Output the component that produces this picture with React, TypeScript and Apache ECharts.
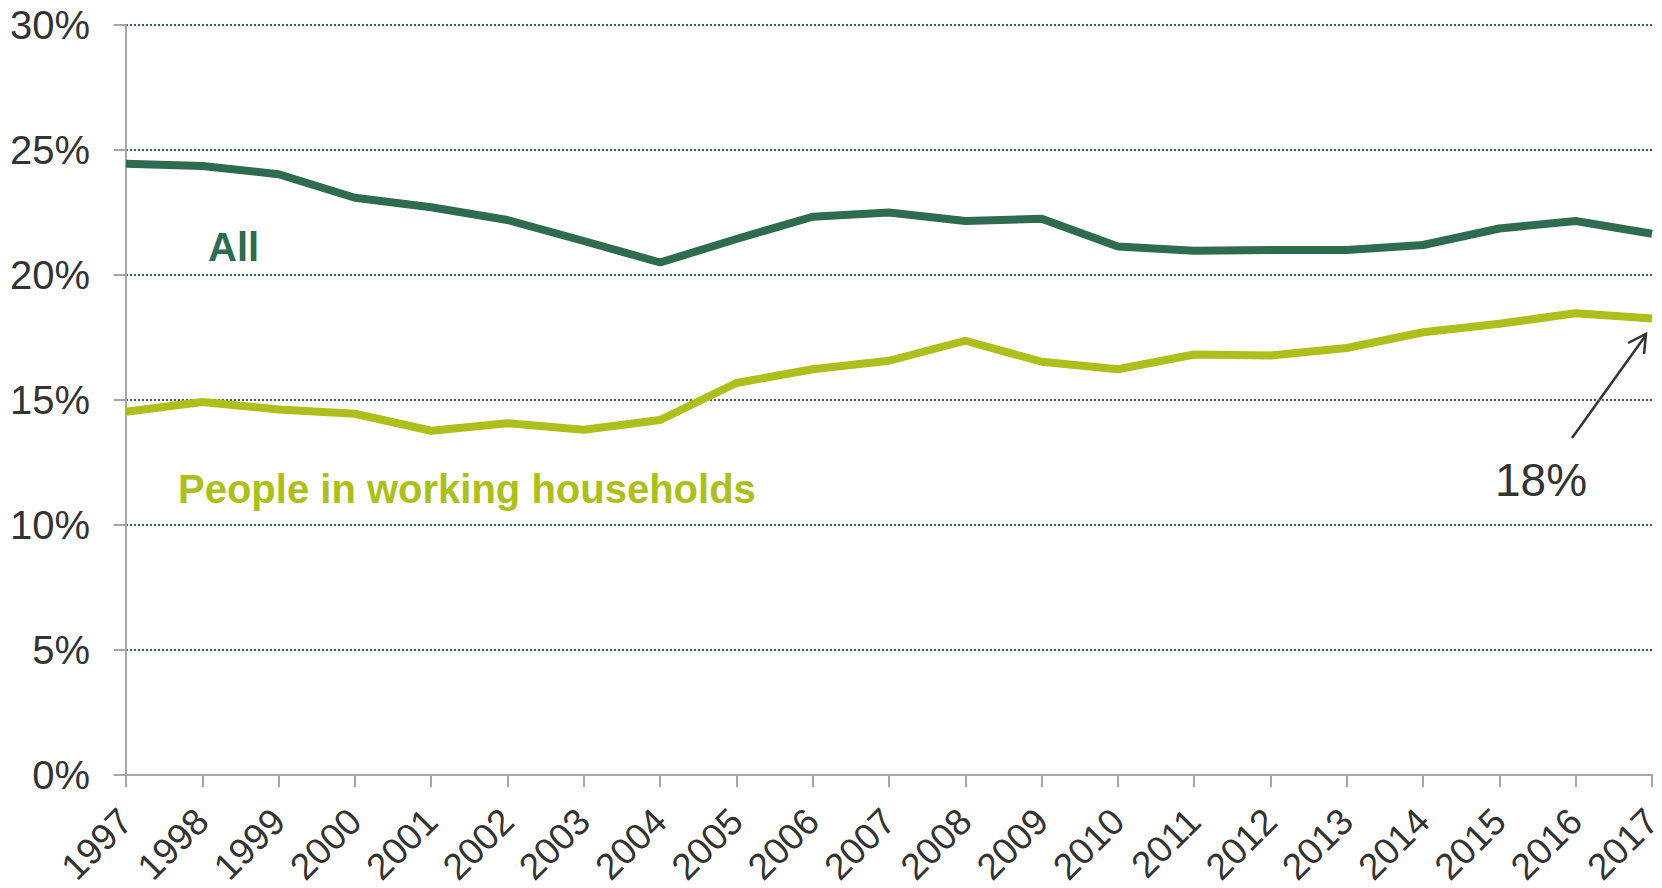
import React, { useEffect, useRef } from "react";
import * as echarts from "echarts";

const years = ["1997","1998","1999","2000","2001","2002","2003","2004","2005","2006","2007","2008","2009","2010","2011","2012","2013","2014","2015","2016","2017"];
const allPeople = [24.45,24.36,24.03,23.09,22.71,22.2,21.36,20.5,21.44,22.33,22.5,22.16,22.25,21.14,20.97,21.0,21.0,21.2,21.86,22.16,21.65];
const workingHouseholds = [14.53,14.92,14.62,14.45,13.77,14.07,13.81,14.2,15.68,16.23,16.57,17.37,16.53,16.23,16.82,16.78,17.08,17.71,18.05,18.47,18.26];
const seriesNames = ["All", "People in working households"];
const endLabel = "18%";

const DARK = "#2e6b4f";
const LIME = "#aebe1a";
const FONT = "'Liberation Sans', Arial, sans-serif";

export default function App() {
  const ref = useRef<HTMLDivElement>(null);
  useEffect(() => {
    if (!ref.current) return;
    const chart = echarts.init(ref.current, null, { renderer: "svg" });
    chart.setOption({
      animation: false,
      backgroundColor: "#ffffff",
      grid: { left: 126, right: 10, top: 25, bottom: 113, containLabel: false, outerBoundsMode: "none" },
      xAxis: {
        type: "category",
        data: years,
        boundaryGap: false,
        axisLine: { lineStyle: { color: "#a6a6a6", width: 2 } },
        axisTick: { show: true, length: 12, lineStyle: { color: "#a6a6a6", width: 2 } },
        axisLabel: { rotate: 45, margin: 40, color: "#333333", fontSize: 37, fontFamily: FONT, interval: 0 },
        splitLine: { show: false },
      },
      yAxis: {
        type: "value",
        min: 0,
        max: 30,
        interval: 5,
        axisLine: { show: true, lineStyle: { color: "#a6a6a6", width: 2 } },
        axisTick: { show: true, length: 12, lineStyle: { color: "#a6a6a6", width: 2 } },
        axisLabel: { formatter: "{value}%", margin: 36, color: "#333333", fontSize: 40, fontFamily: FONT },
        splitLine: { show: true, lineStyle: { color: DARK, width: 2, type: [2, 2] } },
      },
      series: [
        {
          name: seriesNames[0],
          type: "line",
          data: allPeople,
          symbol: "none",
          lineStyle: { color: DARK, width: 8 },
          z: 3,
        },
        {
          name: seriesNames[1],
          type: "line",
          data: workingHouseholds,
          symbol: "none",
          lineStyle: { color: LIME, width: 8 },
          z: 3,
        },
      ],
      graphic: [
        {
          type: "text",
          left: 208,
          top: 227,
          style: { text: seriesNames[0], fill: DARK, font: `bold 40px ${FONT}` },
        },
        {
          type: "text",
          left: 178,
          top: 469,
          style: { text: seriesNames[1], fill: LIME, font: `bold 40px ${FONT}` },
        },
        {
          type: "text",
          left: 1495,
          top: 457,
          style: { text: endLabel, fill: "#333333", font: `46px ${FONT}` },
        },
        {
          type: "line",
          shape: { x1: 1572, y1: 438, x2: 1646, y2: 335 },
          style: { stroke: "#333333", lineWidth: 2.5 },
        },
        {
          type: "polyline",
          shape: { points: [[1628, 343], [1646, 334], [1644, 354]] },
          style: { stroke: "#333333", lineWidth: 2.5, fill: "none" },
        },
      ],
    });
    return () => chart.dispose();
  }, []);
  return <div ref={ref} style={{ width: 1662, height: 888, position: "absolute", left: 0, top: 0 }} />;
}
